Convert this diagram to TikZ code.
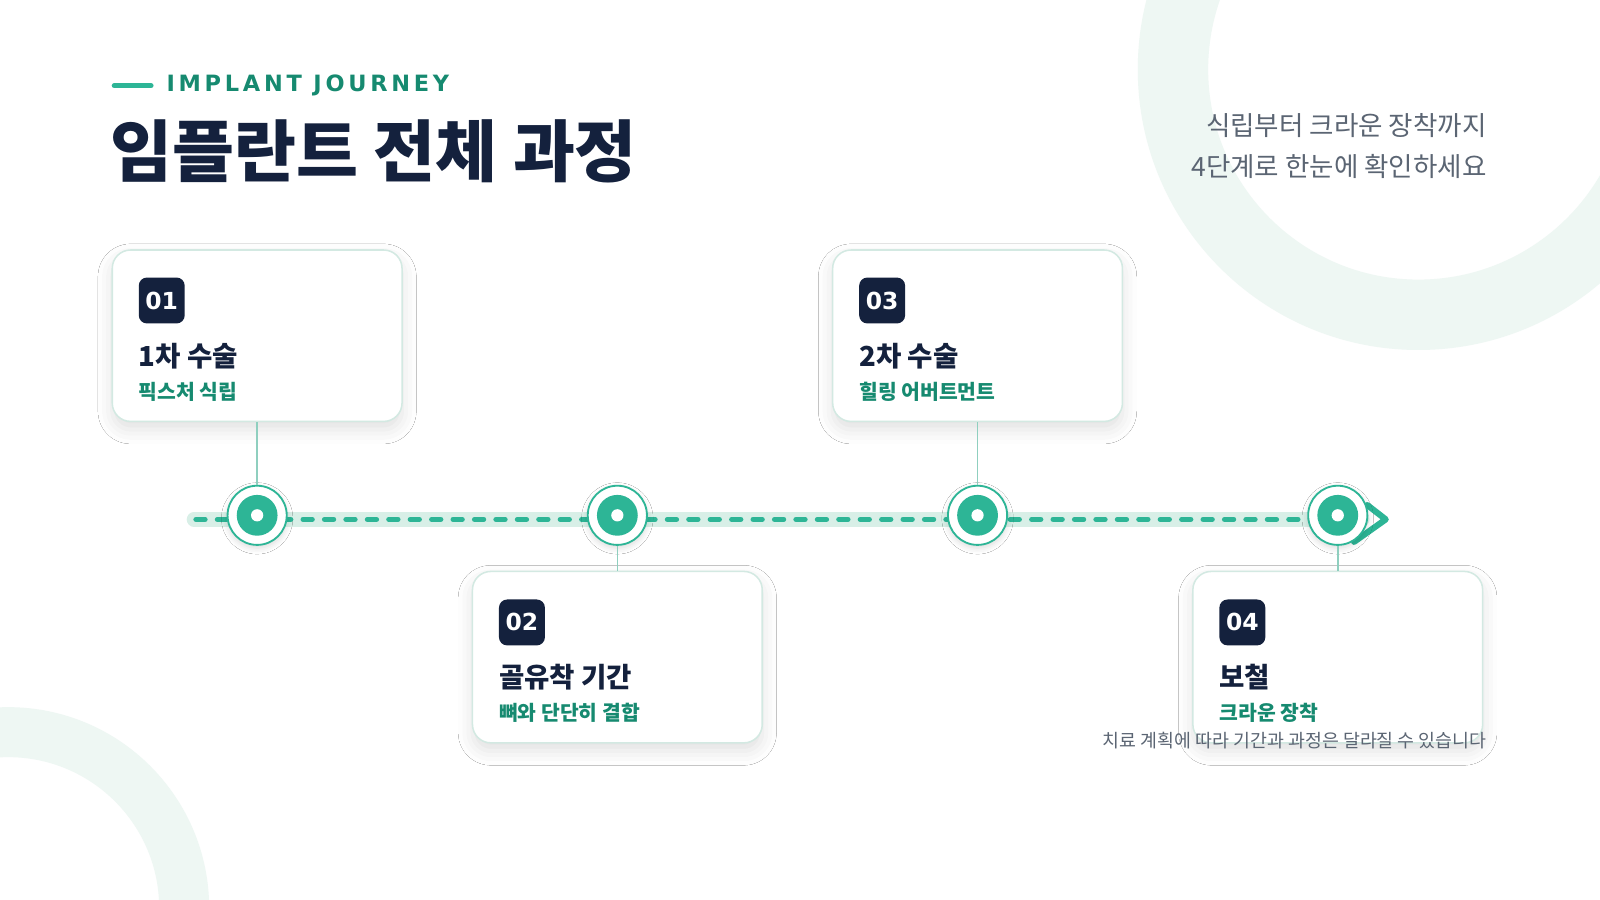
\documentclass[tikz,border=0pt]{standalone}
\usepackage{fontspec}
\setmainfont{Noto Sans CJK KR}
\newfontfamily\dvb{DejaVu Sans}
\usetikzlibrary{shadows.blur}
\definecolor{navy}{HTML}{14213D}
\definecolor{teal}{HTML}{2DB596}
\definecolor{tealdk}{HTML}{168A70}
\definecolor{mint}{HTML}{EEF7F3}
\definecolor{track}{HTML}{D8EFE7}
\definecolor{cardb}{HTML}{D3E9E2}
\definecolor{conn}{HTML}{8FCFBF}
\definecolor{gray}{HTML}{5B6573}
\tikzset{
 x=1pt,y=-1pt,
 card/.style={draw=cardb,line width=1.5pt,fill=white,rounded corners=18pt,minimum width=284pt,minimum height=168pt,inner sep=0pt,
   blur shadow={shadow xshift=0pt,shadow yshift=-8pt,shadow blur radius=14pt,shadow opacity=12}},
 badge/.style={fill=navy,rounded corners=8pt,minimum size=45pt,inner sep=0pt,text=white,font=\dvb\bfseries\fontsize{23}{23}\selectfont},
 ctitle/.style={anchor=west,inner sep=0pt,text=navy,font=\bfseries\fontsize{27}{27}\selectfont},
 csub/.style={anchor=west,inner sep=0pt,text=tealdk,font=\bfseries\fontsize{20}{20}\selectfont},
 dot/.style={circle,draw=teal,line width=1.8pt,fill=white,minimum size=58pt,inner sep=0pt,
   blur shadow={shadow xshift=0pt,shadow yshift=-3pt,shadow blur radius=6pt,shadow opacity=15}},
 conn/.style={draw=conn,line width=1.5pt}
}
\begin{document}
\begin{tikzpicture}
\useasboundingbox (0,0) rectangle (1568,882);
\fill[white] (0,0) rectangle (1568,882);
\begin{scope}
\clip (0,0) rectangle (1568,882);
\fill[mint,even odd rule] (1390,68) circle (275) (1390,68) circle (206);
\fill[mint,even odd rule] (8,890) circle (197) (8,890) circle (148);
\end{scope}
% header
\draw[teal,line width=5pt,line cap=round] (112,84) -- (148,84);
\node[anchor=west,inner sep=0pt,text=tealdk,font=\dvb\bfseries\fontsize{22}{22}\selectfont] (tag) at (163,84) {I\,M\,P\,L\,A\,N\,T\, J\,O\,U\,R\,N\,E\,Y};
\node[anchor=west,inner sep=0pt,text=navy,font=\bfseries\fontsize{66}{66}\selectfont] (title) at (108,148) {임플란트 전체 과정};
\node[anchor=east,inner sep=0pt,text=gray,font=\fontsize{26}{26}\selectfont] (s1) at (1457,123) {식립부터 크라운 장착까지};
\node[anchor=east,inner sep=0pt,text=gray,font=\fontsize{26}{26}\selectfont] (s2) at (1457,163) {4단계로 한눈에 확인하세요};
% track
\draw[track,line width=14pt,line cap=round] (190,509) -- (1335,509);
\draw[teal,line width=5pt,line cap=round,dash pattern=on 9pt off 12pt] (192,509) -- (1330,509);
\draw[teal,line width=6pt,line cap=round,line join=round] (1327,531) -- (1358,509) -- (1340,495);
% cards
\node[card] (c1) at (252,329) {};
\node[card] (c3) at (958,329) {};
\node[card] (c2) at (605,644) {};
\node[card] (c4) at (1311,644) {};
% nodes
\foreach \n/\x in {n1/252,n2/605,n3/958,n4/1311}{
  \node[dot] (\n) at (\x,505) {};
  \fill[teal] (\n) circle (20);
  \fill[white] (\n) circle (6);
}
\draw[conn] (c1.south) -- (n1.north);
\draw[conn] (c3.south) -- (n3.north);
\draw[conn] (c2.north) -- (n2.south);
\draw[conn] (c4.north) -- (n4.south);
% card contents
\node[badge] (b1) at (158.5,294.5) {01};
\node[ctitle] (t1) at (136,349) {1차 수술};
\node[csub] (u1) at (136,384) {픽스처 식립};
\node[badge] (b3) at (864.5,294.5) {03};
\node[ctitle] (t3) at (842,349) {2차 수술};
\node[csub] (u3) at (842,384) {힐링 어버트먼트};
\node[badge] (b2) at (511.5,610) {02};
\node[ctitle] (t2) at (489,664) {골유착 기간};
\node[csub] (u2) at (489,699) {뼈와 단단히 결합};
\node[badge] (b4) at (1217.5,610) {04};
\node[ctitle] (t4) at (1195,664) {보철};
\node[csub] (u4) at (1195,699) {크라운 장착};
\node[anchor=east,inner sep=0pt,text=gray,font=\fontsize{18}{18}\selectfont] (foot) at (1457,726) {치료 계획에 따라 기간과 과정은 달라질 수 있습니다};
\end{tikzpicture}
\end{document}
